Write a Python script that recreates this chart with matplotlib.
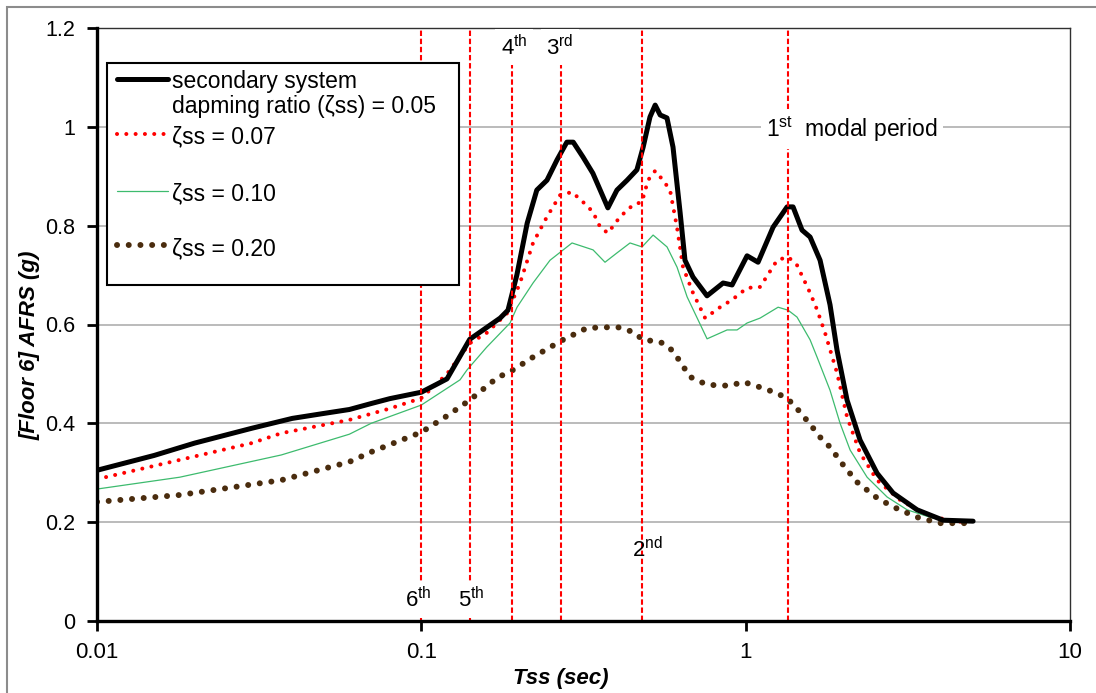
import numpy as np
import matplotlib as mpl
mpl.use('Agg')
import matplotlib.pyplot as plt
from matplotlib.patches import Rectangle
from matplotlib.ticker import NullLocator, FixedLocator, FuncFormatter


################################################################################
# data (period in sec, AFRS in g)

t_005 = [0.01, 0.015, 0.02, 0.03, 0.04, 0.05, 0.06, 0.07, 0.08, 0.1, 0.11, 0.12,
         0.141, 0.175, 0.185, 0.197, 0.212, 0.227, 0.244, 0.262, 0.281, 0.294,
         0.315, 0.338, 0.356, 0.376, 0.401, 0.431, 0.462, 0.483, 0.507, 0.526,
         0.545, 0.572, 0.597, 0.628, 0.650, 0.688, 0.760, 0.852, 0.908, 1.01,
         1.092, 1.215, 1.342, 1.40, 1.492, 1.58, 1.696, 1.82, 1.913, 2.054,
         2.253, 2.542, 2.848, 3.377, 4.062, 5.026]
sa_005 = [0.305, 0.335, 0.36, 0.39, 0.41, 0.42, 0.428, 0.44, 0.45, 0.463, 0.477, 0.49,
          0.57, 0.613, 0.629, 0.70, 0.805, 0.872, 0.892, 0.933, 0.969, 0.969,
          0.939, 0.906, 0.872, 0.836, 0.872, 0.892, 0.913, 0.959, 1.02, 1.044,
          1.024, 1.018, 0.959, 0.826, 0.730, 0.696, 0.658, 0.684, 0.680, 0.739,
          0.726, 0.797, 0.838, 0.838, 0.791, 0.777, 0.730, 0.64, 0.548, 0.447,
          0.366, 0.299, 0.259, 0.225, 0.204, 0.202]

t_007 = [0.01, 0.018, 0.03, 0.037, 0.06, 0.08, 0.1, 0.12, 0.141, 0.159, 0.184,
         0.2015, 0.221, 0.244, 0.268, 0.2915, 0.315, 0.338, 0.356, 0.376, 0.410,
         0.4495, 0.479, 0.500, 0.526, 0.556, 0.5845, 0.614, 0.641, 0.688, 0.750,
         0.834, 0.908, 1.01, 1.108, 1.25, 1.351, 1.44, 1.58, 1.66, 1.757, 1.913,
         2.054, 2.253, 2.542, 2.993, 3.626, 4.36, 4.817]
sa_007 = [0.287, 0.326, 0.36, 0.38, 0.407, 0.43, 0.451, 0.50, 0.562, 0.583, 0.623,
          0.684, 0.765, 0.818, 0.862, 0.868, 0.848, 0.828, 0.797, 0.785, 0.818,
          0.842, 0.848, 0.892, 0.911, 0.892, 0.872, 0.797, 0.716, 0.664, 0.613,
          0.635, 0.650, 0.674, 0.676, 0.730, 0.737, 0.720, 0.664, 0.63, 0.583, 0.502,
          0.413, 0.340, 0.285, 0.245, 0.214, 0.202, 0.200]

t_010 = [0.01, 0.018, 0.037, 0.06, 0.07, 0.1, 0.1316, 0.1383, 0.159, 0.1877,
         0.1973, 0.221, 0.2493, 0.2915, 0.3384, 0.3684, 0.4013, 0.44, 0.4792,
         0.5183, 0.5722, 0.6144, 0.6598, 0.7603, 0.8764, 0.9408, 1.01, 1.108,
         1.259, 1.351, 1.44, 1.58, 1.66, 1.82, 1.955, 2.099, 2.368, 2.729, 3.146,
         3.784, 4.817]
sa_010 = [0.267, 0.291, 0.336, 0.378, 0.40, 0.437, 0.488, 0.508, 0.554, 0.603,
          0.635, 0.684, 0.730, 0.765, 0.751, 0.726, 0.745, 0.765, 0.757,
          0.781, 0.757, 0.716, 0.656, 0.571, 0.589, 0.589, 0.603, 0.613,
          0.635, 0.629, 0.615, 0.569, 0.534, 0.467, 0.400, 0.346, 0.291, 0.251, 0.225,
          0.208, 0.202]

t_020 = [0.01, 0.018, 0.037, 0.06, 0.07, 0.1, 0.12, 0.141, 0.1712, 0.1918, 0.221,
         0.2734, 0.3243, 0.4013, 0.4495, 0.4827, 0.5445, 0.5845, 0.6144, 0.674,
         0.7603, 0.8952, 0.9818, 1.108, 1.25, 1.351, 1.471, 1.603, 1.696, 1.82,
         1.997, 2.205, 2.542, 2.848, 3.377, 3.977, 4.817]
sa_020 = [0.241, 0.255, 0.285, 0.322, 0.342, 0.382, 0.415, 0.447, 0.492, 0.508, 0.534,
          0.569, 0.593, 0.595, 0.585, 0.569, 0.565, 0.552, 0.534, 0.494,
          0.478, 0.476, 0.484, 0.473, 0.461, 0.449, 0.423, 0.393, 0.372, 0.352,
          0.316, 0.281, 0.249, 0.231, 0.210, 0.198, 0.198]

modal_periods = [0.1, 0.1413, 0.1905, 0.270, 0.479, 1.351]

legend_labels = ['secondary system', 'dapming ratio (\u03b6ss) = 0.05',
                 '\u03b6ss = 0.07', '\u03b6ss = 0.10', '\u03b6ss = 0.20']

y_ticks = [0, 0.2, 0.4, 0.6, 0.8, 1.0, 1.2]
x_ticks = [0.01, 0.1, 1, 10]

################################################################################

rc_fonts = {
    "font.family": "Liberation Sans",
    "mathtext.fontset": "custom",
    "mathtext.rm": "Liberation Sans",
    "mathtext.it": "Liberation Sans:italic",
    "font.size": 15,
    "figure.figsize": (10.96, 6.93),
    "figure.dpi": 100,
    "lines.solid_capstyle": "round",
}
mpl.rcParams.update(rc_fonts)

fig = plt.figure()
ax = fig.add_axes([97/1096, 1 - 621/693, 973/1096, 593/693])

# chart area frame
fig.patches.append(Rectangle((7/1096, -0.1), 1.2, 1 - 7/693 + 0.1, transform=fig.transFigure,
                             fill=False, edgecolor='#8c8c8c', lw=1.5, zorder=0))

red_dot = (0, (0.01, 2.3))
brown_dot = (0, (0.01, 1.95))

l1, = ax.plot(t_005, sa_005, color='black', lw=3.6, zorder=4, solid_joinstyle='round')
l2, = ax.plot(t_007, sa_007, color='#ff0000', lw=2.9, ls=red_dot, dash_capstyle='round', zorder=3)
l3, = ax.plot(t_010, sa_010, color='#3dbb6e', lw=0.9, zorder=3)
l4, = ax.plot(t_020, sa_020, color='#4a2c0e', lw=4.3, ls=brown_dot, dash_capstyle='round', zorder=3)

for tp in modal_periods:
    ax.axvline(tp, color='#ff0000', lw=1.5, ls=(0, (2.6, 1.3)), zorder=5)

for yv in y_ticks[1:]:
    ax.axhline(yv, color='#a8a8a8', lw=1.1, zorder=1)

box = dict(facecolor='white', edgecolor='none', pad=4)
ax.text(0.1931, 1.161, r'4$^{\mathrm{th}}$', ha='center', va='center', fontsize=16, bbox=box, zorder=6)
ax.text(0.2677, 1.161, r'3$^{\mathrm{rd}}$', ha='center', va='center', fontsize=16, bbox=box, zorder=6)
ax.text(0.0977, 0.0425, r'6$^{\mathrm{th}}$', ha='center', va='center', fontsize=16, bbox=box, zorder=6)
ax.text(0.1423, 0.0425, r'5$^{\mathrm{th}}$', ha='center', va='center', fontsize=16, bbox=box, zorder=6)
ax.text(0.497, 0.144, r'2$^{\mathrm{nd}}$', ha='center', va='center', fontsize=16, zorder=6)
ax.text(2.13, 0.995, r'1$^{\mathrm{st}}$  modal period', ha='center', va='center', fontsize=16.5,
        bbox=box, zorder=6)

ax.set_xscale('log')
ax.set_xlim(0.01, 10)
ax.set_ylim(0, 1.2)
ax.xaxis.set_major_locator(FixedLocator(x_ticks))
ax.xaxis.set_minor_locator(NullLocator())
ax.xaxis.set_major_formatter(FuncFormatter(lambda v, p: f'{v:g}'))
ax.yaxis.set_major_locator(FixedLocator(y_ticks))
ax.yaxis.set_major_formatter(FuncFormatter(lambda v, p: f'{v:g}'))
ax.tick_params(axis='both', direction='out', length=7, width=2, color='black')
ax.tick_params(axis='y', labelsize=15.5, pad=9)
ax.tick_params(axis='x', labelsize=16, pad=8)

for s in ['left', 'bottom']:
    ax.spines[s].set_linewidth(2.4)
    ax.spines[s].set_zorder(7)
for s in ['top', 'right']:
    ax.spines[s].set_linewidth(1.0)
    ax.spines[s].set_color('#303030')

ax.set_xlabel('Tss (sec)', fontsize=16, fontweight='bold', style='italic')
ax.xaxis.set_label_coords(0.477, -0.08)
ax.set_ylabel('[Floor 6] AFRS (g)', fontsize=16, fontweight='bold', style='italic')
ax.yaxis.set_label_coords(-0.058, 0.465)

# legend box drawn by hand so the sample sits on the first text line
def fx(px):
    return (px - 97) / 973

def fy(py):
    return (621 - py) / 593

ax.add_patch(Rectangle((fx(107), fy(285)), fx(459) - fx(107), fy(63) - fy(285),
                       transform=ax.transAxes, facecolor='white', edgecolor='black', lw=1.5, zorder=8))
hx = [fx(117), fx(168)]
samples = [(l1, 79, '-'), (l2, 134, red_dot), (l3, 191, '-'), (l4, 245, brown_dot)]
for line, py, ls in samples:
    ax.plot(hx, [fy(py)] * 2, transform=ax.transAxes, color=line.get_color(), lw=line.get_linewidth(),
            ls=ls, dash_capstyle='round', zorder=9, clip_on=False)
text_y = [fy(79), fy(104), fy(134), fy(191), fy(246)]
for lab, ty in zip(legend_labels, text_y):
    ax.text(fx(172), ty, lab, transform=ax.transAxes, ha='left', va='center_baseline',
            fontsize=16.5, zorder=10)

plt.savefig('out.png', dpi=100)
